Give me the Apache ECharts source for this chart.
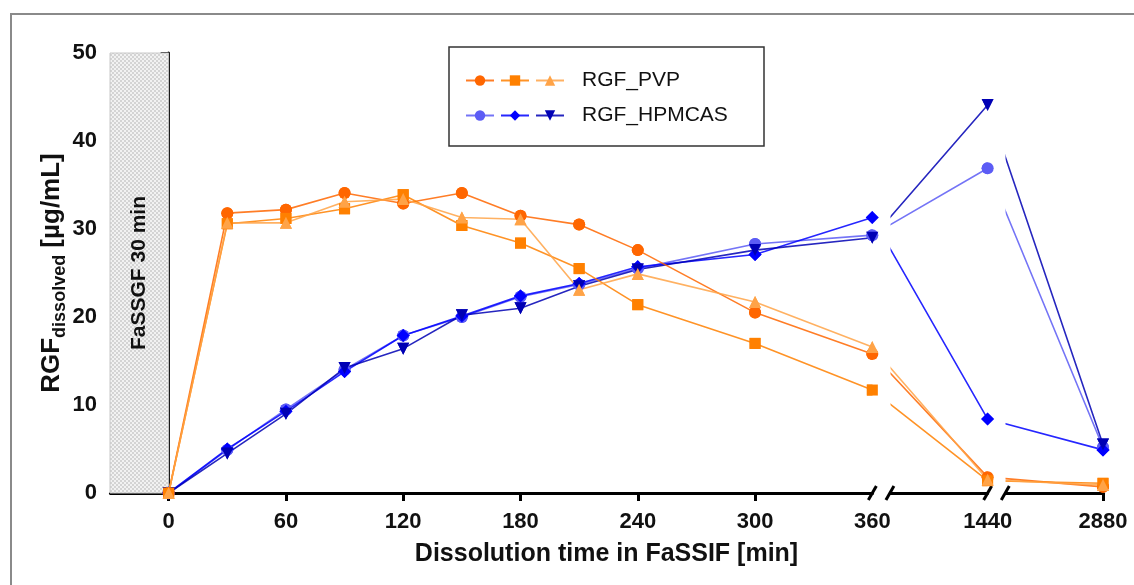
<!DOCTYPE html>
<html><head><meta charset="utf-8">
<script src="https://cdn.jsdelivr.net/npm/echarts@6/dist/echarts.min.js"></script>
<style>html,body{margin:0;padding:0;background:#fff}#c{width:1134px;height:585px}</style>
</head><body><div id="c"></div>
<script>
// ---- data ----
const times = [0, 30, 60, 90, 120, 150, 180, 210, 240, 300, 360, 1440, 2880];
const xLabelValues = [0, 60, 120, 180, 240, 300, 360, 1440, 2880];
const xTickValues = [0, 60, 120, 180, 240, 300, 2880];
const yTicks = [0, 10, 20, 30, 40, 50];
const pvp1 = [0, 31.8, 32.2, 34.1, 32.9, 34.1, 31.5, 30.5, 27.6, 20.5, 15.8, 1.8, 0.7];
const pvp2 = [0, 30.6, 31.2, 32.3, 33.9, 30.4, 28.4, 25.5, 21.4, 17.0, 11.7, 1.4, 1.1];
const pvp3 = [0, 30.7, 30.7, 33.1, 33.4, 31.3, 31.1, 23.1, 24.9, 21.7, 16.6, 1.5, 0.9];
const hp1 = [0, 4.9, 9.5, 14.0, 17.9, 20.0, 22.3, 23.7, 25.5, 28.3, 29.3, 36.9, 5.2];
const hp2 = [0, 5.0, 9.3, 13.8, 17.9, 20.1, 22.4, 23.8, 25.7, 27.1, 31.3, 8.4, 4.9];
const hp3 = [0, 4.5, 9.0, 14.2, 16.4, 20.2, 21.0, 23.5, 25.4, 27.6, 29.0, 44.1, 5.5];
const axisBreaks = [{start: 360, end: 1390, gap: 9}, {start: 1440, end: 2830, gap: 9}];
const shadeRange = [-30, 0];
const shadeText = 'FaSSGF 30 min';

const FONT = 'Liberation Sans, Arial, sans-serif';

// checker pattern for the FaSSGF band
const pc = document.createElement('canvas');
pc.width = 4; pc.height = 4;
const pctx = pc.getContext('2d');
pctx.fillStyle = '#f2f2f2'; pctx.fillRect(0, 0, 4, 4);
pctx.fillStyle = '#d4d4d4'; pctx.fillRect(0, 0, 2, 2); pctx.fillRect(2, 2, 2, 2);

const defs = [
  {name: 'HPMCAS-a', data: hp1, color: '#5c5cf5', symbol: 'circle', rot: 0},
  {name: 'HPMCAS-b', data: hp2, color: '#0000ff', symbol: 'diamond', rot: 0},
  {name: 'RGF_HPMCAS', data: hp3, color: '#0000b4', symbol: 'triangle', rot: 180},
  {name: 'PVP-a', data: pvp1, color: '#ff6600', symbol: 'circle', rot: 0},
  {name: 'PVP-b', data: pvp2, color: '#ff8000', symbol: 'rect', rot: 0},
  {name: 'RGF_PVP', data: pvp3, color: '#ffa347', symbol: 'triangle', rot: 0}
];
const symSize = s => s === 'diamond' ? 13 : (s === 'rect' ? 11 : 12);

const series = [];
defs.forEach((d, k) => {
  series.push({
    type: 'line', name: d.name,
    data: times.map((t, i) => [t, d.data[i]]),
    symbol: d.symbol, symbolSize: symSize(d.symbol), symbolRotate: d.rot,
    itemStyle: {color: d.color},
    lineStyle: {color: d.color, width: 1.6, opacity: 0.85},
    emphasis: {disabled: true},
    z: 3 + k * 0.1
  });
});
// markers drawn above the axis-break mask
defs.forEach((d, k) => {
  series.push({
    type: 'scatter', name: d.name + ' markers',
    data: times.map((t, i) => [t, d.data[i]]),
    symbol: d.symbol, symbolSize: symSize(d.symbol), symbolRotate: d.rot,
    itemStyle: {color: d.color, opacity: 1},
    emphasis: {disabled: true}, silent: true,
    z: 300 + k
  });
});
series[0].markArea = {
  silent: true,
  itemStyle: {color: {image: pc, repeat: 'repeat'}, borderColor: '#c8c8c8', borderWidth: 1},
  label: {show: true, position: 'inside', rotate: 90, formatter: shadeText,
          fontFamily: FONT, fontWeight: 'bold', fontSize: 21, color: '#111'},
  data: [[{xAxis: shadeRange[0]}, {xAxis: shadeRange[1]}]]
};

const legendFmt = n => n.indexOf('RGF') === 0 ? '{t|' + n + '}' : '';
const legendCommon = {
  orient: 'horizontal', left: 465, itemWidth: 28, itemHeight: 13, itemGap: 5, padding: 0,
  formatter: legendFmt, selectedMode: false,
  textStyle: {rich: {t: {fontFamily: FONT, fontSize: 21, color: '#111', padding: [0, 0, 0, 13]}}}
};

const option = {
  animation: false,
  backgroundColor: '#fff',
  grid: {left: 110, right: 31, top: 53, bottom: 92, containLabel: false},
  legend: [
    Object.assign({top: 70, data: ['PVP-a', 'PVP-b', 'RGF_PVP']}, legendCommon),
    Object.assign({top: 105, data: ['HPMCAS-a', 'HPMCAS-b', 'RGF_HPMCAS']}, legendCommon)
  ],
  xAxis: {
    type: 'value', min: -30, max: 2880,
    breaks: axisBreaks,
    breakArea: {show: true, itemStyle: {color: '#fff', borderColor: '#fff', borderWidth: 0, opacity: 1},
                zigzagAmplitude: 0, expandOnClick: false},
    axisLine: {onZero: false, lineStyle: {color: '#000', width: 3}},
    axisTick: {show: true, customValues: xTickValues, length: 8, lineStyle: {color: '#000', width: 3}},
    axisLabel: {customValues: xLabelValues, formatter: v => String(v),
                fontFamily: FONT, fontSize: 22, fontWeight: 'bold', color: '#111', margin: 18},
    splitLine: {show: false},
    name: 'Dissolution time in FaSSIF [min]', nameLocation: 'middle', nameGap: 49, nameMoveOverlap: false,
    nameTextStyle: {fontFamily: FONT, fontSize: 25, fontWeight: 'bold', color: '#111'}
  },
  yAxis: {
    type: 'value', min: 0, max: 50, interval: 10,
    axisLine: {show: true, lineStyle: {color: '#000', width: 3}},
    axisTick: {show: true, length: 8, lineStyle: {color: '#000', width: 3}},
    axisLabel: {customValues: yTicks, fontFamily: FONT, fontSize: 22, fontWeight: 'bold', color: '#111', margin: 13},
    splitLine: {show: false},
    name: '{m|RGF}{s|dissolved}{m| [µg/mL]}', nameLocation: 'middle', nameGap: 41, nameMoveOverlap: false,
    nameTextStyle: {
      rich: {
        m: {fontFamily: FONT, fontSize: 26, fontWeight: 'bold', color: '#111', lineHeight: 34},
        s: {fontFamily: FONT, fontSize: 18, fontWeight: 'bold', color: '#111', lineHeight: 18, verticalAlign: 'bottom'}
      }
    }
  },
  series: series
};

const chart = echarts.init(document.getElementById('c'), null, {renderer: 'canvas'});
chart.setOption(option);

// decorations: axis-break slashes, legend box, outer frame
const y0 = chart.convertToPixel({yAxisIndex: 0}, 0);
const deco = [];
axisBreaks.forEach(b => {
  [b.start, b.end].forEach(v => {
    const x = chart.convertToPixel({xAxisIndex: 0}, v);
    deco.push({type: 'line', z: 200, shape: {x1: x - 4, y1: y0 + 7, x2: x + 4, y2: y0 - 7},
               style: {stroke: '#000', lineWidth: 3}});
  });
});
deco.push({type: 'rect', z: 150, shape: {x: 449, y: 47, width: 315, height: 99},
           style: {fill: 'none', stroke: '#333', lineWidth: 1.5}});
deco.push({type: 'rect', z: 150, shape: {x: 11, y: 14, width: 1200, height: 700},
           style: {fill: 'none', stroke: '#8a8a8a', lineWidth: 2}});
chart.setOption({graphic: deco});
</script>
</body></html>
